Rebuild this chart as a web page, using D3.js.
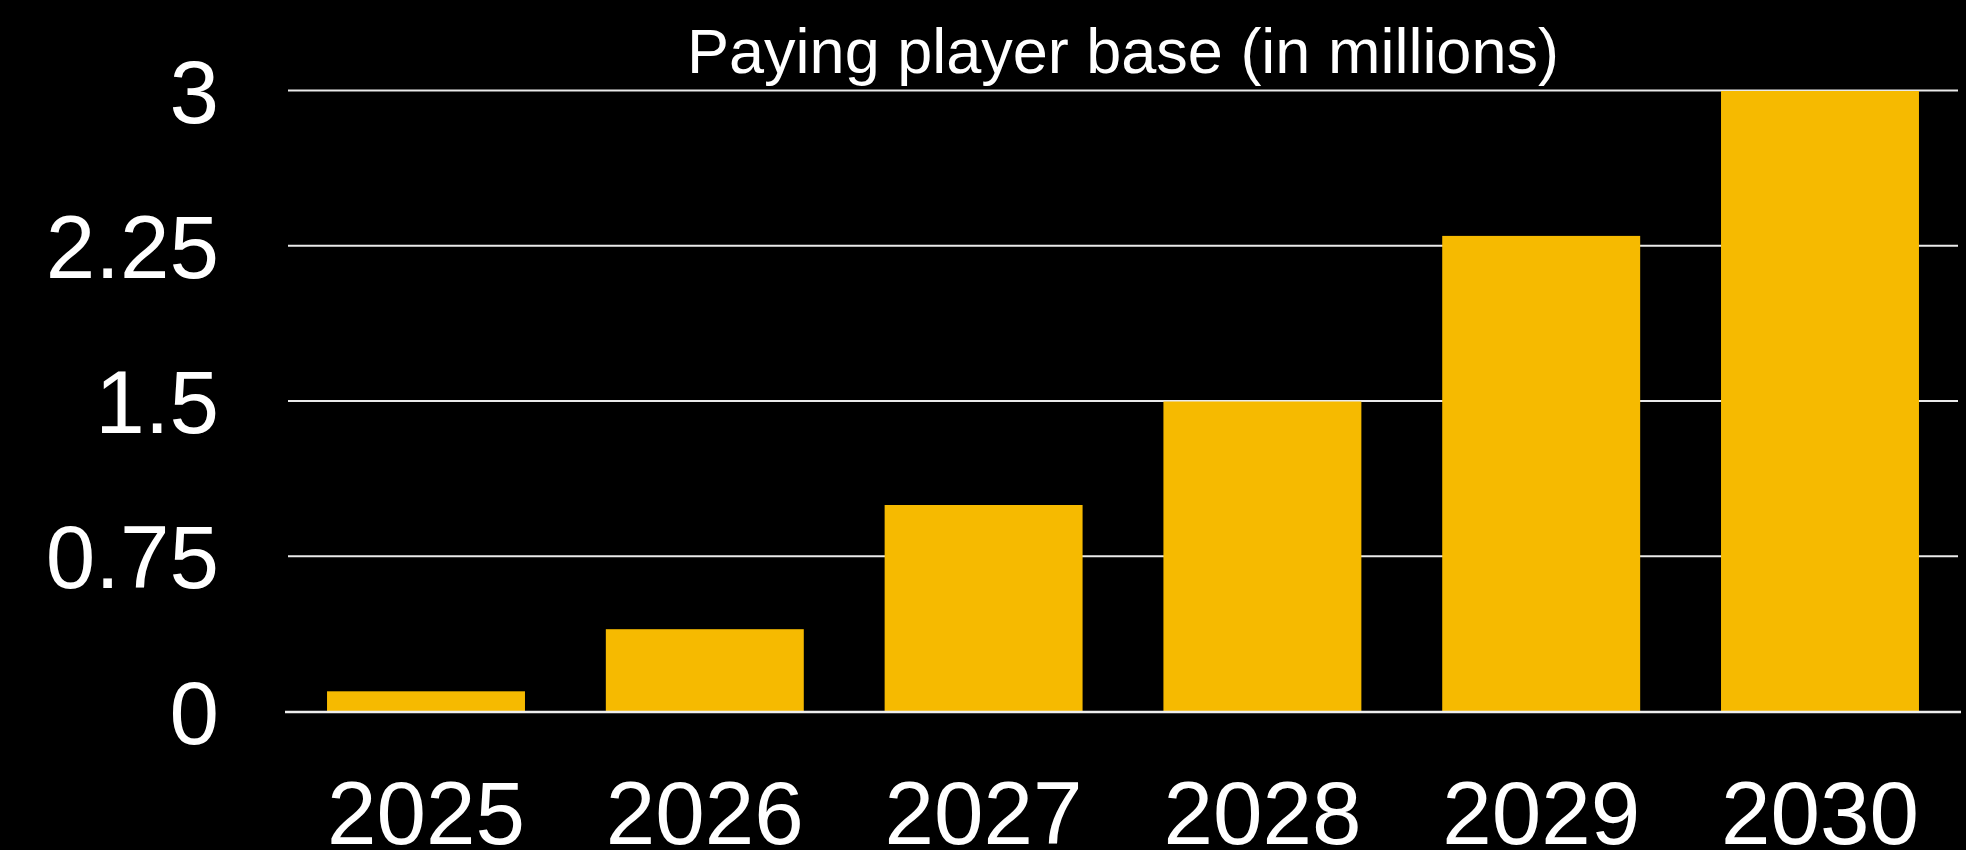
<!DOCTYPE html>
<html>
<head>
<meta charset="utf-8">
<script src="https://cdn.jsdelivr.net/npm/d3@7"></script>
<style>
  html, body { margin: 0; padding: 0; background: #000; }
  svg { display: block; }
  text { font-family: "Liberation Sans", Arial, Helvetica, sans-serif; fill: #fff; }
</style>
</head>
<body>
<svg id="chart"></svg>
<script>
// Paying player base per year, in millions
const years = ["2025", "2026", "2027", "2028", "2029", "2030"];
const payingPlayers = [0.1, 0.4, 1.0, 1.5, 2.3, 3.0];
const yTickValues = [0, 0.75, 1.5, 2.25, 3];
const yTickLabels = ["0", "0.75", "1.5", "2.25", "3"];
const chartTitle = "Paying player base (in millions)";

const width = 1966, height = 850;
const margin = { top: 90, right: 8, bottom: 139, left: 288 };
const plotW = width - margin.left - margin.right;
const plotH = height - margin.top - margin.bottom;

const svg = d3.select("#chart").attr("width", width).attr("height", height);
svg.append("rect").attr("width", width).attr("height", height).attr("fill", "#000");

const g = svg.append("g").attr("transform", `translate(${margin.left},${margin.top})`);

const x = d3.scaleBand().domain(years).range([0, plotW]).paddingInner(0.29).paddingOuter(0.14);
const y = d3.scaleLinear().domain([0, 3]).range([plotH, 0]);

// Horizontal gridlines with value labels
const yAxis = d3.axisLeft(y)
  .tickValues(yTickValues)
  .tickFormat((d, i) => yTickLabels[i])
  .tickSize(-plotW)
  .tickPadding(69);
const yG = g.append("g").call(yAxis);
yG.select(".domain").remove();
yG.selectAll(".tick line").attr("stroke", "#eaeaea").attr("stroke-width", 2)
  .filter(d => d === 0).remove();
yG.selectAll(".tick text").attr("font-size", 89).attr("dy", "0.36em").style("fill", "#fff");

// Bars
g.selectAll("rect.bar")
  .data(payingPlayers)
  .join("rect")
  .attr("class", "bar")
  .attr("x", (d, i) => x(years[i]))
  .attr("width", x.bandwidth())
  .attr("y", d => y(d) + 1)
  .attr("height", d => y(0) - y(d) - 1)
  .attr("fill", "#F6BA00");

// Baseline
g.append("line")
  .attr("x1", -3).attr("x2", plotW + 3)
  .attr("y1", y(0) + 1).attr("y2", y(0) + 1)
  .attr("stroke", "#eeeeee").attr("stroke-width", 2.5);

// Year labels
const xAxis = d3.axisBottom(x).tickSize(0);
const xG = g.append("g").attr("transform", `translate(0,${plotH})`).call(xAxis);
xG.select(".domain").remove();
xG.selectAll(".tick text")
  .attr("font-size", 89)
  .attr("y", 133)
  .attr("dy", 0)
  .style("fill", "#fff");

// Title
svg.append("text")
  .attr("x", margin.left + plotW / 2)
  .attr("y", 73)
  .attr("text-anchor", "middle")
  .attr("font-size", 63)
  .text(chartTitle);
</script>
</body>
</html>
